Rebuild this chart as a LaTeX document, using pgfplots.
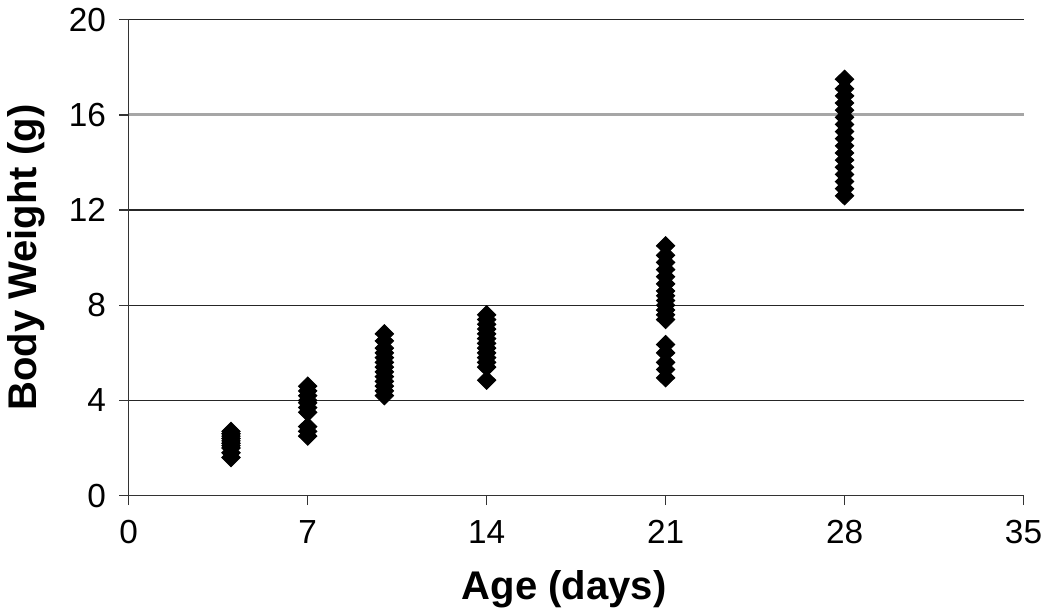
\documentclass[border=0pt]{standalone}
\usepackage{fontspec}
\setmainfont{Liberation Sans}
\usepackage{pgfplots}
\pgfplotsset{compat=1.18}
\begin{document}
\begin{tikzpicture}
\begin{axis}[
  scale only axis,
  width=13.2cm, height=7.02cm,
  xmin=0, xmax=35, ymin=0, ymax=20,
  xtick={0,7,14,21,28,35},
  ytick={0,4,8,12,20},
  extra y ticks={16},
  extra y tick style={grid style={gray!70, line width=1.2pt}},
  axis x line=bottom, axis y line=left,
  axis line style={-, black!80, line width=0.6pt},
  tick align=outside, major tick length=4pt,
  tick style={black!80, line width=0.6pt},
  ymajorgrids, grid style={black!85, line width=0.6pt},
  tick label style={font=\fontsize{14}{16}\selectfont},
  xticklabel style={yshift=-3pt},
  yticklabel style={xshift=-2pt},
  /pgf/number format/assume math mode=true,
  xlabel={\textbf{Age (days)}}, ylabel={\textbf{Body Weight (g)}},
  label style={font=\fontsize{16.8}{18}\selectfont},
  xlabel style={yshift=-4pt, xshift=-5pt},
  ylabel style={yshift=-5pt},
  clip=false,
]
\addplot[only marks, mark=diamond*, mark size=3.8pt, black,
  every mark/.append style={xscale=1.35}] coordinates {
(4,1.6) (4,1.8) (4,2.0) (4,2.1) (4,2.2) (4,2.3) (4,2.4) (4,2.5) (4,2.6) (4,2.7)
(7,2.5) (7,2.7) (7,2.9) (7,3.5) (7,3.7) (7,3.9) (7,4.0) (7,4.2) (7,4.4) (7,4.6)
(10,4.2) (10,4.4) (10,4.6) (10,4.8) (10,5.0) (10,5.2) (10,5.4) (10,5.6) (10,5.8) (10,6.0) (10,6.2) (10,6.5) (10,6.8)
(14,4.85) (14,5.4) (14,5.6) (14,5.8) (14,6.0) (14,6.2) (14,6.4) (14,6.6) (14,6.8) (14,7.0) (14,7.2) (14,7.4) (14,7.6)
(21,4.95) (21,5.3) (21,5.6) (21,6.0) (21,6.35) (21,7.4) (21,7.6) (21,7.8) (21,8.0) (21,8.2) (21,8.4) (21,8.6) (21,8.9) (21,9.2) (21,9.5) (21,9.8) (21,10.1) (21,10.5)
(28,12.6) (28,12.9) (28,13.2) (28,13.5) (28,13.8) (28,14.1) (28,14.4) (28,14.7) (28,15.0) (28,15.3) (28,15.6) (28,15.9) (28,16.2) (28,16.5) (28,16.8) (28,17.1) (28,17.5)
};
\end{axis}
\end{tikzpicture}
\end{document}
